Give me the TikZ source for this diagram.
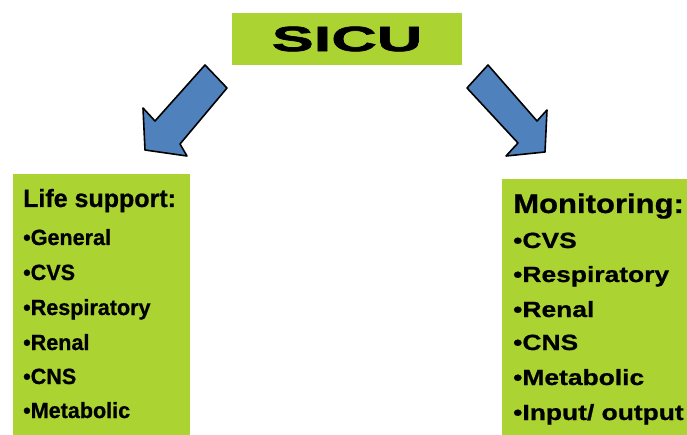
\documentclass[tikz,border=0pt]{standalone}
\usepackage{fontspec}
\usepackage{tikz}
\setmainfont{Liberation Sans}
\newfontfamily\sicufont[FakeStretch=1.8,FakeBold=2]{Liberation Sans}
\newfontfamily\narrowfont[FakeStretch=0.98,FakeBold=0.8]{Liberation Sans}
\newfontfamily\headfont[FakeBold=0.8]{Liberation Sans}
\newfontfamily\monfont[FakeStretch=1.15,FakeBold=0.8]{Liberation Sans}
\newfontfamily\widefont[FakeStretch=1.2,FakeBold=0.8]{Liberation Sans}
\definecolor{limegreen}{RGB}{171,212,51}
\definecolor{arrowblue}{RGB}{79,129,189}

\begin{document}
\begin{tikzpicture}[x=1pt,y=-1pt]
    \tikzstyle{every node}=[inner sep=0pt,font=\bfseries]
    \tikzstyle{greenbox}=[fill=limegreen,anchor=north west]
    \tikzstyle{header}=[anchor=base west]
    \tikzstyle{item}=[anchor=base west]
    \tikzstyle{blockarrow}=[fill=arrowblue,draw=black,line width=1.6pt,line join=round]
    \useasboundingbox (0,0) rectangle (687,435);

    \node[fill=limegreen,minimum width=230pt,minimum height=52pt] (sicu) at (347,39)
    {\sicufont\bfseries\fontsize{35}{40}\selectfont SICU};

    \node[greenbox,minimum width=177pt,minimum height=262pt] (life) at (13,174) {};
    \node[greenbox,minimum width=186pt,minimum height=257pt] (monitor) at (502,179) {};

    \filldraw[blockarrow] (205,65) -- (227,88) -- (180,144) -- (187,156) --
    (145,150) -- (143,108) -- (155,121) -- cycle;

    \filldraw[blockarrow] (488,65) -- (467,88) -- (518,143) -- (506,156) --
    (545,152) -- (547,110) -- (537,121) -- cycle;

    \node[header,font=\headfont\bfseries\fontsize{25}{30}\selectfont] (lifehead) at (23,207) {Life support:};
    \node[item,font=\narrowfont\bfseries\fontsize{22}{26}\selectfont] (l1) at (23,245) {•General};
    \node[item,font=\narrowfont\bfseries\fontsize{22}{26}\selectfont] (l2) at (23,280) {•CVS};
    \node[item,font=\narrowfont\bfseries\fontsize{22}{26}\selectfont] (l3) at (23,315) {•Respiratory};
    \node[item,font=\narrowfont\bfseries\fontsize{22}{26}\selectfont] (l4) at (23,350) {•Renal};
    \node[item,font=\narrowfont\bfseries\fontsize{22}{26}\selectfont] (l5) at (23,384) {•CNS};
    \node[item,font=\narrowfont\bfseries\fontsize{22}{26}\selectfont] (l6) at (23,418) {•Metabolic};

    \node[header,font=\monfont\bfseries\fontsize{27}{32}\selectfont] (monhead) at (513,213) {Monitoring:};
    \node[item,font=\widefont\bfseries\fontsize{22}{26}\selectfont] (m1) at (513,248) {•CVS};
    \node[item,font=\widefont\bfseries\fontsize{22}{26}\selectfont] (m2) at (513,282) {•Respiratory};
    \node[item,font=\widefont\bfseries\fontsize{22}{26}\selectfont] (m3) at (513,317) {•Renal};
    \node[item,font=\widefont\bfseries\fontsize{22}{26}\selectfont] (m4) at (513,350) {•CNS};
    \node[item,font=\widefont\bfseries\fontsize{22}{26}\selectfont] (m5) at (513,385) {•Metabolic};
    \node[item,font=\widefont\bfseries\fontsize{22}{26}\selectfont] (m6) at (513,420) {•Input/ output};

\end{tikzpicture}
\end{document}
